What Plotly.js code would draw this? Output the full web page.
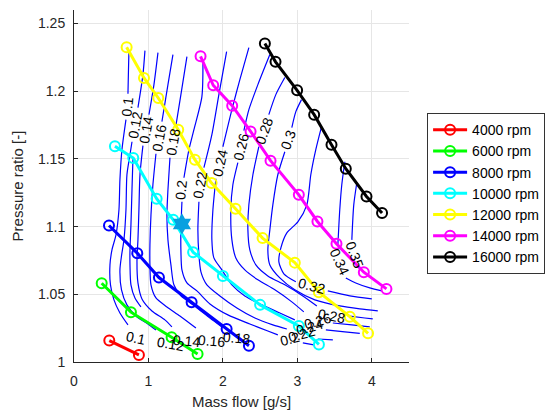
<!DOCTYPE html>
<html>
<head>
<meta charset="utf-8">
<script src="https://cdn.plot.ly/plotly-3.0.1.min.js"></script>
<style>html,body{margin:0;padding:0;background:#fff;}#chart{width:549px;height:416px;}</style>
</head>
<body>
<div id="chart"></div>
<script>
// ---- speed lines (mass flow [g/s], pressure ratio [-]) ----
const speedNames = ['4000 rpm','6000 rpm','8000 rpm','10000 rpm','12000 rpm','14000 rpm','16000 rpm'];
const speedColors = ['#ff0000','#00ff00','#0000ff','#00ffff','#ffff00','#ff00ff','#000000'];
const flow4000 = [0.474, 0.872];
const pr4000   = [1.0158, 1.0052];
const flow6000 = [0.372, 0.765, 1.311, 1.66];
const pr6000   = [1.0582, 1.0368, 1.0183, 1.0059];
const flow8000 = [0.470, 0.850, 1.141, 1.580, 2.050, 2.350];
const pr8000   = [1.1008, 1.0804, 1.0624, 1.0441, 1.0244, 1.0120];
const flow10000 = [0.55, 0.796, 1.11, 1.333, 1.60, 2.0, 2.50, 3.02, 3.29];
const pr10000   = [1.1593, 1.1507, 1.1206, 1.105, 1.0811, 1.0636, 1.0422, 1.0266, 1.013];
const flow12000 = [0.707, 0.94, 1.132, 1.40, 1.624, 1.848, 2.17, 2.533, 2.966, 3.29, 3.705, 3.95];
const pr12000   = [1.2325, 1.2098, 1.195, 1.1716, 1.1494, 1.1322, 1.1132, 1.0915, 1.0734, 1.0516, 1.0335, 1.0212];
const flow14000 = [1.70, 1.87, 2.125, 2.372, 2.64, 3.02, 3.27, 3.526, 3.893, 4.197];
const pr14000   = [1.2258, 1.2044, 1.1893, 1.1703, 1.1487, 1.1235, 1.1038, 1.0873, 1.0663, 1.054];
const flow16000 = [2.564, 2.707, 2.997, 3.226, 3.459, 3.651, 3.929, 4.138];
const pr16000   = [1.2352, 1.2217, 1.2007, 1.1827, 1.1605, 1.1428, 1.1223, 1.11];
const speedFlows = [flow4000, flow6000, flow8000, flow10000, flow12000, flow14000, flow16000];
const speedPRs   = [pr4000, pr6000, pr8000, pr10000, pr12000, pr14000, pr16000];

// ---- operating point ----
const opFlow = [1.45];
const opPR   = [1.102];

// ---- efficiency contour lines (null = gap at a label) ----
const eta010x = [0.738,0.732,0.725,null,0.698,0.644,0.617,0.604,0.564,0.510,0.483,0.490,0.537,0.617,0.725];
const eta010y = [1.2300,1.2160,1.1982,null,1.1790,1.1568,1.1346,1.1124,1.0939,1.0828,1.0717,1.0570,1.0459,1.0362,1.0274];
const eta012x = [0.953,0.926,0.859,null,0.779,0.752,0.711,0.698,0.671,0.640,0.617,0.638,0.711,0.832,0.993,1.101];
const eta012y = [1.2300,1.2123,1.1879,null,1.1627,1.1531,1.1383,1.1124,1.0902,1.0791,1.0680,1.0533,1.0422,1.0340,1.0281,1.0237];
const eta013x = [0.792,0.779,0.765,0.752,0.752,0.765,0.819,0.899];
const eta013y = [1.1509,1.1272,1.1013,1.0828,1.0717,1.0570,1.0473,1.0407];
const eta014x = [1.128,1.074,1.007,null,0.926,0.886,0.872,0.859,0.846,0.859,0.913,1.047,1.221,1.315];
const eta014y = [1.2285,1.2049,1.1827,null,1.1598,1.1383,1.1124,1.0902,1.0754,1.0584,1.0466,1.0377,1.0311,1.0259];
const eta016x = [1.329,1.262,1.181,null,1.101,1.060,1.034,1.020,1.020,1.034,1.101,1.248,1.423,1.638];
const eta016y = [1.2271,1.2049,1.1775,null,1.1538,1.1309,1.1087,1.0865,1.0717,1.0570,1.0473,1.0407,1.0340,1.0251];
const eta018x = [1.517,1.436,1.369,null,1.289,1.262,1.248,1.262,1.302,1.342,1.436,1.638,1.826,1.987];
const eta018y = [1.2256,1.1975,1.1746,null,1.1509,1.1272,1.1087,1.0902,1.0717,1.0570,1.0488,1.0407,1.0325,1.0259];
const eta020x = [1.732,1.718,1.611,1.544,1.477,null,1.450,1.436,1.436,1.450,1.517,1.651,1.826,2.067,2.362,2.604,2.738,null,3.074,3.221];
const eta020y = [1.2234,1.1960,1.1716,1.1568,1.1361,null,1.1183,1.0976,1.0828,1.0680,1.0584,1.0525,1.0429,1.0348,1.0281,1.0229,1.0200,null,1.0141,1.0126];
const eta022x = [2.050,1.946,1.852,1.745,null,1.678,1.664,1.678,1.705,1.785,1.960,2.188,2.430,2.671,2.859,null,3.275,3.477];
const eta022y = [1.2293,1.1975,1.1679,1.1435,null,1.1183,1.0976,1.0791,1.0666,1.0570,1.0488,1.0399,1.0325,1.0274,1.0244,null,1.0170,1.0163];
const eta024x = [2.349,2.228,2.121,2.000,null,1.906,1.866,1.852,1.879,1.987,2.121,2.295,2.523,2.765,2.966,null,3.383,3.638,3.839];
const eta024y = [1.2322,1.2086,1.1864,1.1590,null,1.1354,1.1124,1.0902,1.0769,1.0680,1.0570,1.0488,1.0422,1.0362,1.0311,null,1.0237,1.0222,1.0211];
const eta026x = [2.631,2.470,2.349,2.282,null,2.201,2.134,2.107,2.121,2.174,2.295,2.470,2.698,2.926,3.087,null,3.477,3.732,3.973];
const eta026y = [1.2271,1.2049,1.1864,1.1709,null,1.1472,1.1309,1.1124,1.0902,1.0769,1.0680,1.0607,1.0533,1.0444,1.0370,null,1.0288,1.0274,1.0259];
const eta028x = [2.832,2.711,2.617,null,2.483,2.403,2.349,2.336,2.362,2.443,2.604,2.832,3.074,3.262,null,3.678,3.906,4.013];
const eta028y = [1.2101,1.1975,1.1827,null,1.1590,1.1383,1.1161,1.0976,1.0828,1.0717,1.0636,1.0570,1.0488,1.0414,null,1.0340,1.0325,1.0318];
const eta030x = [3.056,2.980,2.926,null,2.832,2.738,2.671,2.631,2.604,2.631,2.765,2.966,3.235,3.570,3.839,4.081];
const eta030y = [1.1938,1.1849,1.1731,null,1.1553,1.1383,1.1161,1.0976,1.0828,1.0717,1.0621,1.0533,1.0459,1.0414,1.0392,1.0377];
const eta032x = [3.325,3.248,3.181,3.128,3.007,2.859,2.779,2.752,2.819,2.980,null,3.409,3.705,4.000];
const eta032y = [1.1738,1.1568,1.1383,1.1161,1.1035,1.0954,1.0843,1.0740,1.0651,1.0592,null,1.0525,1.0488,1.0466];
const eta034x = [3.638,3.597,3.570,3.544,null,3.651,3.785,3.973,4.134];
const eta034y = [1.1479,1.1309,1.1124,1.0858,null,1.0621,1.0584,1.0547,1.0525];
const eta035x = [3.799,3.758,3.732];
const eta035y = [1.1324,1.1161,1.0902];
const contourXs = [eta010x,eta012x,eta013x,eta014x,eta016x,eta018x,eta020x,eta022x,eta024x,eta026x,eta028x,eta030x,eta032x,eta034x,eta035x];
const contourYs = [eta010y,eta012y,eta013y,eta014y,eta016y,eta018y,eta020y,eta022y,eta024y,eta026y,eta028y,eta030y,eta032y,eta034y,eta035y];

// ---- contour labels ----
const labelText  = ['0.1','0.12','0.14','0.16','0.18','0.2','0.22','0.24','0.26','0.28','0.3',
                    '0.1','0.12','0.14','0.16','0.18','0.2','0.22','0.24','0.26','0.28','0.32','0.34','0.35'];
const labelFlow  = [0.711,0.819,0.966,1.141,1.329,1.436,1.691,1.960,2.242,2.550,2.872,
                    0.832,1.302,1.517,1.852,2.188,2.899,3.060,3.168,3.275,3.463,3.195,3.570,3.772];
const labelPR    = [1.1886,1.1753,1.1716,1.1657,1.1627,1.1272,1.1309,1.1472,1.1590,1.1709,1.1642,
                    1.0178,1.0133,1.0155,1.0155,1.0178,1.0170,1.0207,1.0259,1.0303,1.0340,1.0562,1.0740,1.0791];
const labelAngle = [-84,-80,-80,-80,-80,-84,-80,-77,-76,-70,-70,
                    12,10,5,5,5,-15,-15,-15,-15,10,15,65,70];

const FONT = 'Liberation Sans, Arial, Helvetica, sans-serif';
const traces = [];
contourXs.forEach((xs, i) => {
  traces.push({x: xs, y: contourYs[i], type: 'scatter', mode: 'lines',
    line: {color: '#0000ff', width: 1.2, shape: 'spline', smoothing: 0.7},
    connectgaps: false, showlegend: false, hoverinfo: 'skip'});
});
speedFlows.forEach((xs, i) => {
  traces.push({x: xs, y: speedPRs[i], type: 'scatter', mode: 'lines+markers', name: speedNames[i],
    line: {color: speedColors[i], width: 3},
    marker: {symbol: 'circle-open', size: 10, color: speedColors[i], line: {width: 2}}});
});
traces.push({x: opFlow, y: opPR, type: 'scatter', mode: 'markers', showlegend: false,
  marker: {symbol: 'hexagram', size: 16, color: '#08a0e0', line: {width: 0}}});

const annotations = labelText.map((t, i) => ({
  x: labelFlow[i], y: labelPR[i], xref: 'x', yref: 'y', text: t, showarrow: false,
  textangle: labelAngle[i], font: {family: FONT, size: 14, color: '#000'}
}));

const layout = {
  width: 549, height: 416,
  margin: {l: 74, r: 140, t: 10, b: 54, pad: 0, autoexpand: false},
  paper_bgcolor: '#fff', plot_bgcolor: '#fff',
  font: {family: FONT, color: '#262626', size: 13},
  showlegend: true,
  legend: {x: 1.054, y: 0.707, xanchor: 'left', yanchor: 'top', bgcolor: '#fff',
    bordercolor: '#333', borderwidth: 1, font: {family: FONT, size: 14, color: '#000'},
    tracegroupgap: 0, itemwidth: 34},
  xaxis: {range: [0, 4.5], tickvals: [0,1,2,3,4], ticktext: ['0','1','2','3','4'],
    showgrid: true, gridcolor: '#e6e6e6', zeroline: false, showline: true, linecolor: '#262626',
    ticks: 'inside', ticklen: 4, tickcolor: '#262626', tickfont: {size: 14, color: '#262626'},
    ticklabelstandoff: 6,
    title: {text: 'Mass flow [g/s]', font: {size: 15, color: '#262626'}, standoff: 8}},
  yaxis: {range: [1, 1.26], tickvals: [1,1.05,1.1,1.15,1.2,1.25], ticktext: ['1','1.05','1.1','1.15','1.2','1.25'],
    showgrid: true, gridcolor: '#e6e6e6', zeroline: false, showline: true, linecolor: '#262626',
    ticks: 'inside', ticklen: 4, tickcolor: '#262626', tickfont: {size: 14, color: '#262626'},
    ticklabelstandoff: 5,
    title: {text: 'Pressure ratio [-]', font: {size: 15, color: '#262626'}, standoff: 10}},
  annotations: annotations
};
Plotly.newPlot('chart', traces, layout, {displayModeBar: false, staticPlot: true});
</script>
</body>
</html>
